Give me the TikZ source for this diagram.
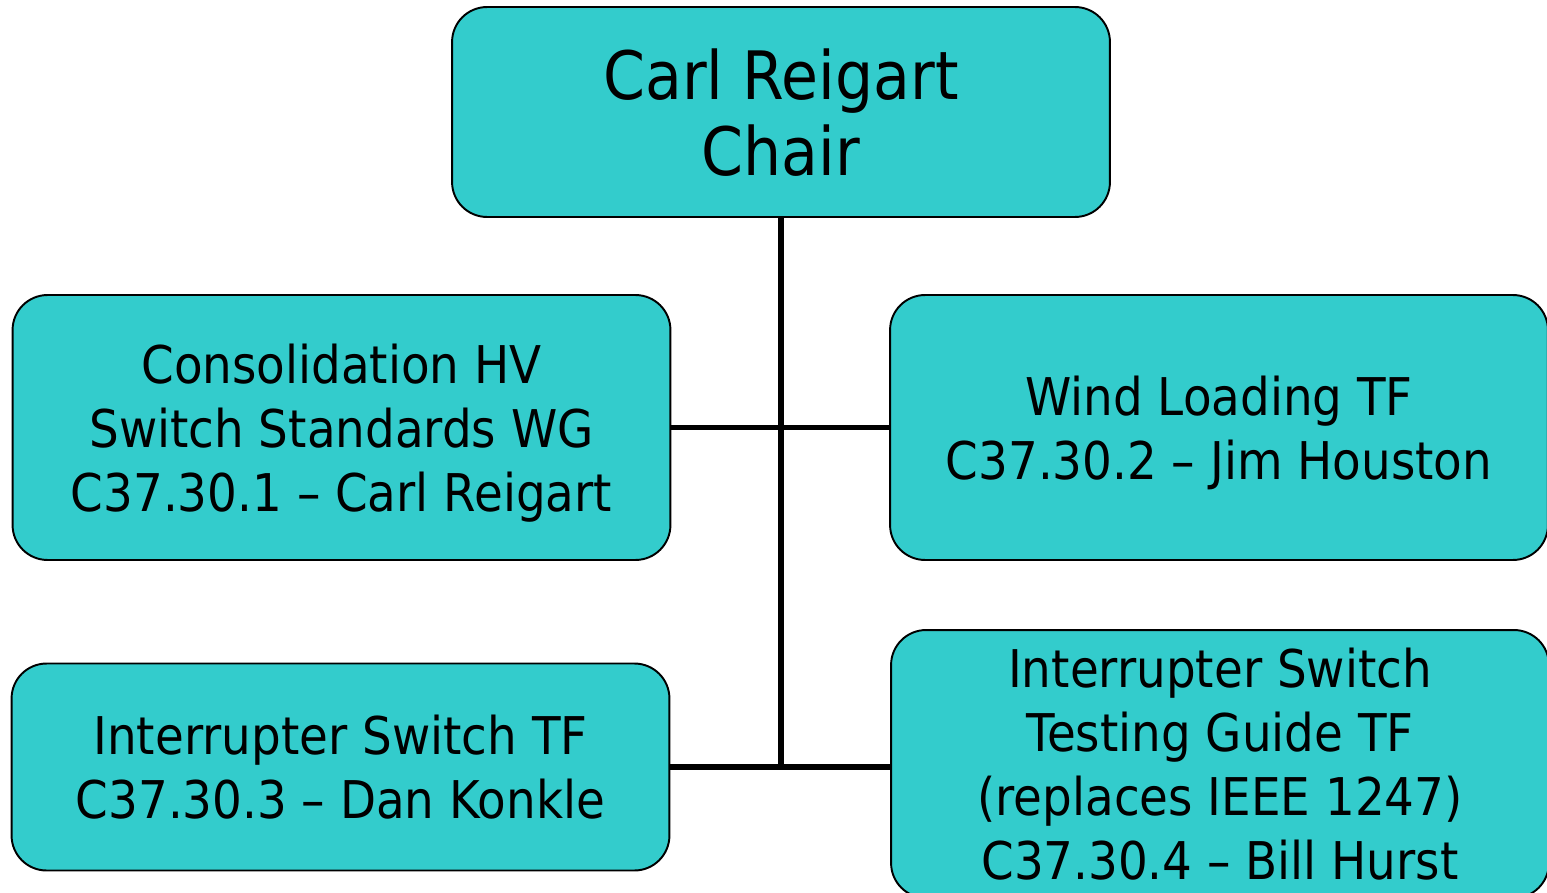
\documentclass[tikz,border=0pt]{standalone}
\usepackage{fontspec}
\setmainfont[FakeStretch=0.9]{DejaVu Sans}
\definecolor{tfteal}{HTML}{33CCCC}

\begin{document}
\begin{tikzpicture}[%
  box/.style = {draw, fill = tfteal, rounded corners = 0.7cm, line width = 1.1pt,
                align = center, inner sep = 0pt, minimum width = 13.16cm,
                text depth = 0pt, font = \fontsize{29.6}{36.4}\selectfont},
  link/.style = {line width = 3.4pt},
  x = 0.02cm, y = -0.02cm]
  \useasboundingbox (0, 0) rectangle (1547, 892);

  \node[box, minimum height = 4.2cm, font = \fontsize{38}{43.2}\selectfont]
    (chair) at (781, 112) {Carl Reigart\\Chair};
  \node[box, minimum height = 5.3cm] (hvwg) at (341.5, 427.5)
    {Consolidation HV\\Switch Standards WG\\C37.30.1 -- Carl Reigart};
  \node[box, minimum height = 5.3cm] (wind) at (1219, 427.5)
    {Wind Loading TF\\C37.30.2 -- Jim Houston};
  \node[box, minimum height = 4.14cm] (intsw) at (340.5, 767)
    {Interrupter Switch TF\\C37.30.3 -- Dan Konkle};
  \node[box, minimum height = 5.36cm] (guide) at (1220, 764)
    {Interrupter Switch\\Testing Guide TF\\(replaces IEEE 1247)\\C37.30.4 -- Bill Hurst};

  \draw[link] (chair) -- (chair |- intsw);
  \draw[link] (hvwg) -- (wind);
  \draw[link] (intsw) -- (intsw -| guide.west);
\end{tikzpicture}
\end{document}
